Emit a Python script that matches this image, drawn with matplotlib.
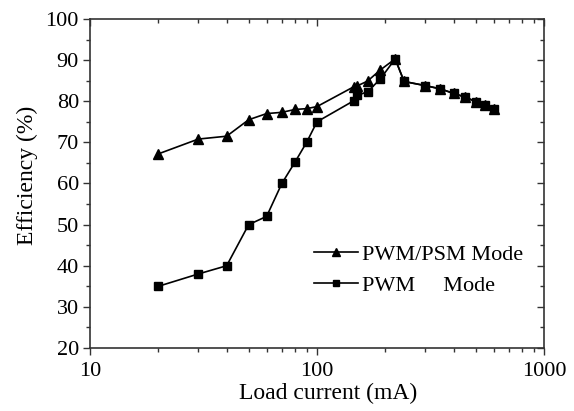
import numpy as np
import matplotlib
matplotlib.use('Agg')
from matplotlib import pyplot as plt
from matplotlib.ticker import FixedLocator, NullFormatter, MultipleLocator

# PWM/PSM mode (triangles)
psm_x = [20, 30, 40, 50, 60, 70, 80, 90, 100, 145, 150, 167, 190, 221, 242, 300, 350, 400, 450, 500, 550, 600]
psm_y = [67.2, 70.8, 71.5, 75.5, 77.0, 77.3, 78.0, 78.2, 78.7, 83.5, 83.7, 84.9, 87.6, 90.3, 84.8, 83.8, 83.0, 81.9, 81.0, 79.9, 79.0, 78.0]

# PWM mode (squares)
pwm_x = [20, 30, 40, 50, 60, 70, 80, 90, 100, 145, 150, 167, 190, 221, 242, 300, 350, 400, 450, 500, 550, 600]
pwm_y = [35.0, 38.0, 40.0, 50.0, 52.0, 60.0, 65.2, 70.0, 75.0, 80.1, 81.4, 82.3, 85.4, 90.3, 84.8, 83.8, 83.0, 81.9, 81.0, 79.9, 79.0, 78.0]

x_minor = [v * d for d in (10, 100) for v in range(2, 10)]

plt.rcParams['font.family'] = ['Liberation Serif', 'DejaVu Serif']

fig = plt.figure(figsize=(5.74, 4.11), dpi=100)
ax = fig.add_axes([0.1568, 0.1533, 0.7909, 0.8005])

ax.plot(psm_x, psm_y, color='black', lw=1.2, marker='^', ms=7, label='PWM/PSM Mode')
ax.plot(pwm_x, pwm_y, color='black', lw=1.2, marker='s', ms=5.5, label='PWM     Mode')

ax.set_xscale('log')
ax.set_xlim(10, 1000)
ax.set_ylim(20, 100)
ax.xaxis.set_major_locator(FixedLocator([10, 100, 1000]))
ax.set_xticklabels(['10', '100', '1000'])
ax.xaxis.set_minor_locator(FixedLocator(x_minor))
ax.xaxis.set_minor_formatter(NullFormatter())
ax.yaxis.set_major_locator(MultipleLocator(10))
ax.yaxis.set_minor_locator(MultipleLocator(5))

ax.tick_params(axis='both', which='major', labelsize=16, color='#333333', width=1)
ax.tick_params(axis='both', which='minor', color='#333333', width=1)
ax.tick_params(axis='x', which='major', direction='out', length=5, pad=5)
ax.tick_params(axis='x', which='minor', direction='out', length=3)
ax.tick_params(axis='y', which='major', direction='out', length=5, pad=3)
ax.tick_params(axis='y', which='minor', direction='out', length=3)
for s in ax.spines.values():
    s.set_linewidth(1.2)
    s.set_color('#333333')

# inward ticks on top and right
top = ax.secondary_xaxis('top')
top.xaxis.set_major_locator(FixedLocator([10, 100, 1000]))
top.xaxis.set_minor_locator(FixedLocator(x_minor))
top.tick_params(which='both', direction='in', labeltop=False, color='#333333', width=1)
top.tick_params(which='major', length=5)
top.tick_params(which='minor', length=3)
top.spines['top'].set_visible(False)
right = ax.secondary_yaxis('right')
right.yaxis.set_major_locator(MultipleLocator(10))
right.yaxis.set_minor_locator(MultipleLocator(5))
right.tick_params(which='both', direction='in', labelright=False, color='#333333', width=1)
right.tick_params(which='major', length=5)
right.tick_params(which='minor', length=3)
right.spines['right'].set_visible(False)

ax.set_xlabel('Load current (mA)', fontsize=17)
ax.set_ylabel('Efficiency (%)', fontsize=17)
ax.xaxis.set_label_coords(0.524, -0.105)
ax.yaxis.set_label_coords(-0.115, 0.525)

ax.legend(loc='center left', bbox_to_anchor=(0.468, 0.237), frameon=False, fontsize=16,
          handlelength=2.0, handletextpad=0.2, labelspacing=0.45, borderpad=0, markerscale=0.8)

fig.savefig('out.png', dpi=100)
